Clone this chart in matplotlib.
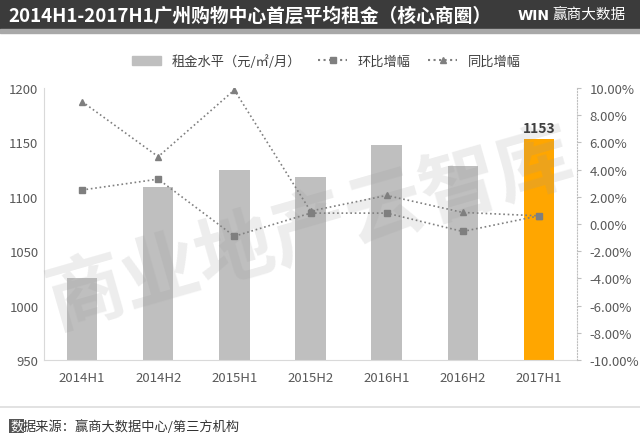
import numpy as np
import matplotlib.pyplot as plt
from matplotlib.patches import Rectangle
from matplotlib.lines import Line2D
from matplotlib.ticker import FuncFormatter

plt.rcParams['font.family'] = ['Noto Sans CJK SC', 'DejaVu Sans']

# data
periods = ['2014H1', '2014H2', '2015H1', '2015H2', '2016H1', '2016H2', '2017H1']
rent = [1025, 1109, 1125, 1118, 1148, 1128, 1153]           # 元/㎡/月
qoq = [2.5, 3.3, -0.9, 0.8, 0.8, -0.55, 0.6]                # 环比增幅 %
yoy = [9.0, 4.95, 9.85, 0.95, 2.1, 0.85, 0.6]               # 同比增幅 %

fig = plt.figure(figsize=(6.4, 4.39), dpi=100)
W, H = 640, 439

# header bar
fig.patches.append(Rectangle((0, 1 - 30 / H), 1, 30 / H, transform=fig.transFigure,
                             color='#3b3b3b', zorder=0))
fig.patches.append(Rectangle((0, 1 - 34 / H), 1, 4 / H, transform=fig.transFigure,
                             color='#a8a8a8', zorder=0))
fig.text(8 / W, 1 - 16 / H, '2014H1-2017H1广州购物中心首层平均租金（核心商圈）',
         color='white', fontsize=13.5, fontweight='bold', va='center', ha='left')
fig.text(518 / W, 1 - 16 / H, 'WIN', color='white', fontsize=10, fontweight='bold',
         va='center', ha='left', family='DejaVu Sans')
fig.text(552 / W, 1 - 16 / H, '赢商大数据', color='white', fontsize=10.5,
         va='center', ha='left')

# footer
fig.add_artist(Line2D([0, 1], [1 - 408 / H] * 2, transform=fig.transFigure,
                      color='#dddddd', lw=1.2))
fig.text(10 / W, 1 - 427 / H, '数', color='white', fontsize=9.5, va='center', ha='left',
         bbox=dict(boxstyle='square,pad=0.05', fc='#555555', ec='none'))
fig.text(23 / W, 1 - 427 / H, '据来源：赢商大数据中心/第三方机构', color='#333333',
         fontsize=9.5, va='center', ha='left')

ax = fig.add_axes([44 / W, 1 - 361 / H, (577 - 44) / W, (361 - 89) / H])
x = np.arange(len(periods))
colors = ['#bfbfbf'] * (len(periods) - 1) + ['#ffa600']
ax.bar(x, rent, width=0.4, color=colors, zorder=2)
ax.set_ylim(950, 1200)
ax.set_yticks(np.arange(950, 1201, 50))
ax.set_xlim(-0.5, len(periods) - 0.5)
ax.set_xticks(x)
ax.set_xticklabels(periods)
ax.tick_params(axis='both', labelsize=9.5, colors='#595959', length=0, pad=8)
ax.tick_params(axis='y', pad=4)
for s in ['top', 'right']:
    ax.spines[s].set_visible(False)
ax.spines['left'].set_color('#d9d9d9')
ax.spines['bottom'].set_color('#d9d9d9')
ax.text(x[-1], rent[-1] + 4, str(rent[-1]), ha='center', va='bottom',
        fontsize=10, fontweight='bold', color='#404040', zorder=5)

ax2 = ax.twinx()
ax2.plot(x, qoq, ls=':', color='#808080', lw=1.2, marker='s', ms=5,
         mfc='#7f7f7f', mec='#7f7f7f', zorder=4)
ax2.plot(x, yoy, ls=':', color='#808080', lw=1.2, marker='^', ms=5,
         mfc='#7f7f7f', mec='#7f7f7f', zorder=4)
ax2.set_ylim(-10, 10)
ax2.set_yticks(np.arange(-10, 10.1, 2))
ax2.yaxis.set_major_formatter(FuncFormatter(lambda v, p: f'{v:.2f}%'))
ax2.tick_params(axis='y', labelsize=9.5, colors='#595959', length=3, pad=6)
ax2.tick_params(axis='y', color='#bfbfbf')
for s in ['top', 'left', 'bottom']:
    ax2.spines[s].set_visible(False)
ax2.spines['right'].set_color('#bfbfbf')
ax2.spines['right'].set_linestyle(':')

# watermark
ax.text(0.5, 0.48, '商业地产云智库', transform=ax.transAxes, fontsize=56,
        color='#9a9a9a', alpha=0.18, rotation=16, ha='center', va='center',
        fontweight='bold', zorder=3)

# legend
handles = [Rectangle((0, 0), 1, 1, color='#bfbfbf'),
           Line2D([], [], ls=':', color='#808080', marker='s', ms=4, mfc='#7f7f7f', mec='#7f7f7f'),
           Line2D([], [], ls=':', color='#808080', marker='^', ms=4, mfc='#7f7f7f', mec='#7f7f7f')]
fig.legend(handles, ['租金水平（元/㎡/月）', '环比增幅', '同比增幅'], loc='center',
           bbox_to_anchor=(0.51, 1 - 62 / H), ncol=3, frameon=False, fontsize=9.5,
           labelcolor='#404040', handlelength=2.2, columnspacing=1.3)

fig.savefig('out.png', dpi=100)
